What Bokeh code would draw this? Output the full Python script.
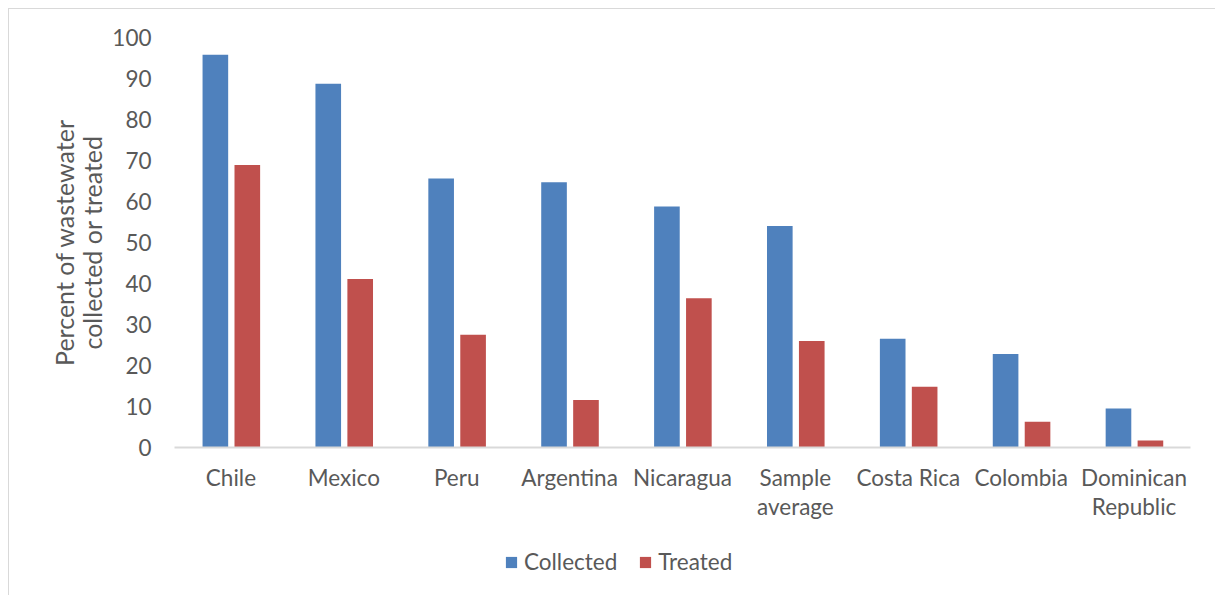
from bokeh.plotting import figure
from bokeh.layouts import column
from bokeh.models import ColumnDataSource, FactorRange, Range1d, FixedTicker, Legend, LegendItem
from bokeh.transform import dodge
from bokeh.embed import file_html
from bokeh.resources import INLINE

countries = ["Chile", "Mexico", "Peru", "Argentina", "Nicaragua",
             "Sample\naverage", "Costa Rica", "Colombia", "Dominican\nRepublic"]
collected = [95.8, 88.7, 65.6, 64.7, 58.8, 54.0, 26.5, 22.8, 9.5]
treated = [68.9, 41.1, 27.5, 11.6, 36.4, 26.0, 14.8, 6.3, 1.7]
y_ticks = [0, 10, 20, 30, 40, 50, 60, 70, 80, 90, 100]
series_names = ["Collected", "Treated"]
y_title = "Percent of wastewater\ncollected or treated"

FONT = "Lato"
TXT = "#595959"
BLUE = "#4F81BD"
RED = "#C0504D"
W = 1206

src = ColumnDataSource(dict(country=countries, collected=collected, treated=treated))

p = figure(width=W, height=518, output_backend="svg", toolbar_location=None,
           x_range=FactorRange(*countries, range_padding=0),
           y_range=Range1d(0, 100),
           min_border_left=165, min_border_right=25, min_border_top=28, min_border_bottom=80)
p.outline_line_color = None
p.xgrid.grid_line_color = None
p.ygrid.grid_line_color = None

p.vbar(x=dodge("country", -0.138, range=p.x_range), top="collected", width=0.227,
       source=src, fill_color=BLUE, line_color=None)
p.vbar(x=dodge("country", 0.145, range=p.x_range), top="treated", width=0.227,
       source=src, fill_color=RED, line_color=None)

# y axis
ya = p.yaxis[0]
ya.ticker = FixedTicker(ticks=y_ticks)
ya.axis_line_color = None
ya.major_tick_line_color = None
ya.minor_tick_line_color = None
ya.major_label_standoff = 17
ya.major_label_text_font = FONT
ya.major_label_text_font_size = "22.5px"
ya.major_label_text_color = TXT
ya.axis_label = y_title
ya.axis_label_text_font = FONT
ya.axis_label_text_font_size = "25px"
ya.axis_label_text_font_style = "normal"
ya.axis_label_text_color = TXT
ya.axis_label_text_line_height = 0.96
ya.axis_label_standoff = 2

# x axis
xa = p.xaxis[0]
xa.axis_line_color = "#d9d9d9"
xa.axis_line_width = 2
xa.major_tick_line_color = None
xa.minor_tick_line_color = None
xa.major_label_standoff = 10
xa.major_label_text_font = FONT
xa.major_label_text_font_size = "22.5px"
xa.major_label_text_color = TXT
xa.major_label_text_line_height = 1.1

# legend strip below the chart (zero-height swatch renderers, nothing visible drawn)
q = figure(width=W, height=68, output_backend="svg", toolbar_location=None,
           x_range=p.x_range, y_range=Range1d(0, 1),
           x_axis_type=None, y_axis_type=None, min_border=0)
q.outline_line_color = None
swatch = ColumnDataSource(dict(x=[countries[0]], top=[0]))
q1 = q.vbar(x="x", top="top", bottom=0, width=0.227, source=swatch, fill_color=BLUE, line_color=None)
q2 = q.vbar(x="x", top="top", bottom=0, width=0.227, source=swatch, fill_color=RED, line_color=None)

legend = Legend(items=[LegendItem(label=series_names[0], renderers=[q1]),
                       LegendItem(label=series_names[1], renderers=[q2])],
                orientation="horizontal", location=(330, 20),
                border_line_color=None, background_fill_alpha=0,
                padding=0, margin=0, spacing=21, label_standoff=6,
                glyph_width=14, glyph_height=14,
                label_text_font=FONT, label_text_font_size="22.5px", label_text_color=TXT)
q.add_layout(legend, "center")

layout = column(p, q, spacing=0)
layout.margin = (8, 0, 0, 8)
layout.styles = {"border-top": "1px solid #d9d9d9", "border-left": "1px solid #d9d9d9"}

open("out.html", "w").write(file_html(layout, INLINE))
